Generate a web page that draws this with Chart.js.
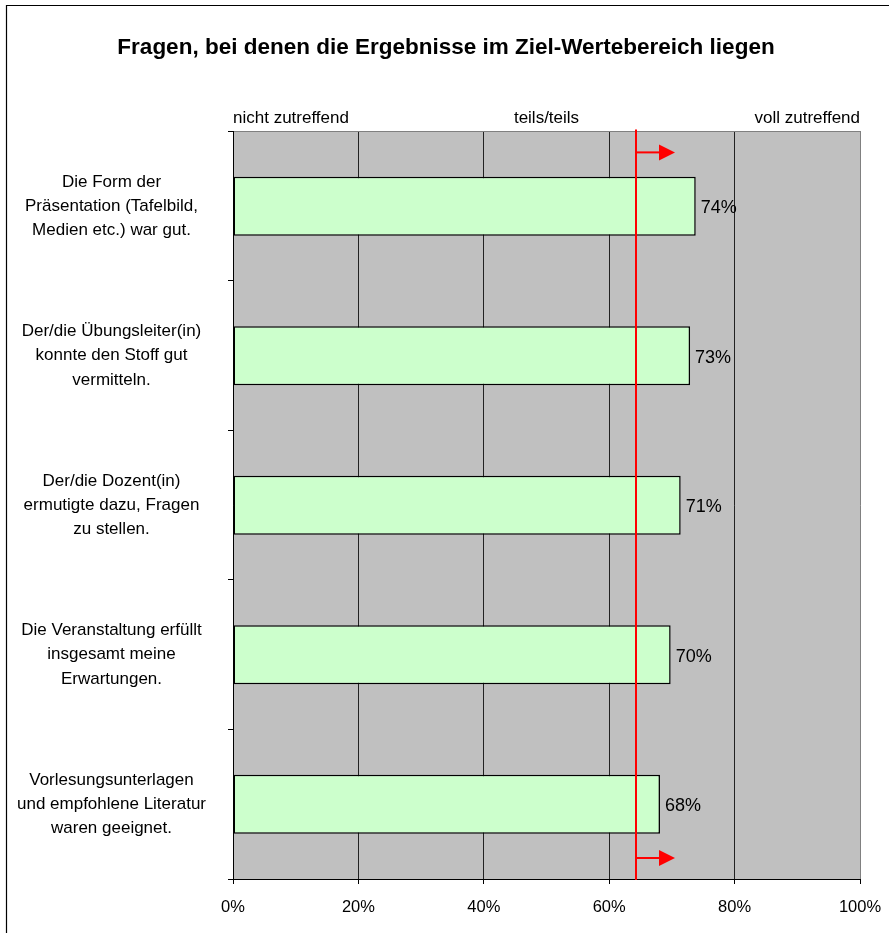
<!DOCTYPE html>
<html><head><meta charset="utf-8">
<script src="https://cdn.jsdelivr.net/npm/chart.js@4/dist/chart.umd.min.js"></script>
<style>html,body{margin:0;padding:0;background:#fff}#wrap{width:889px;height:933px;position:relative}canvas{display:block}</style>
</head><body><div id="wrap"><canvas id="c" width="889" height="933"></canvas></div>
<script>
const chartTitle = "Fragen, bei denen die Ergebnisse im Ziel-Wertebereich liegen";
const categories = [
  ["Die Form der", "Präsentation (Tafelbild,", "Medien etc.) war gut."],
  ["Der/die Übungsleiter(in)", "konnte den Stoff gut", "vermitteln."],
  ["Der/die Dozent(in)", "ermutigte dazu, Fragen", "zu stellen."],
  ["Die Veranstaltung erfüllt", "insgesamt meine", "Erwartungen."],
  ["Vorlesungsunterlagen", "und empfohlene Literatur", "waren geeignet."]
];
const values = [73.8, 72.9, 71.4, 69.8, 68.1];
const xTickValues = [0, 20, 40, 60, 80, 100];
const scaleLabels = ["nicht zutreffend", "teils/teils", "voll zutreffend"];
const scaleLabelValues = [0, 50, 100];
const targetValue = 64.2;

const FONT = "'Liberation Sans', Arial, Helvetica, sans-serif";
Chart.defaults.font.family = FONT;
Chart.defaults.color = '#000';

const decor = {
  id: 'decor',
  beforeDraw(chart) {
    const {ctx, chartArea: a} = chart;
    ctx.save();
    ctx.fillStyle = '#fff';
    ctx.fillRect(0, 0, chart.width, chart.height);
    ctx.fillStyle = '#C0C0C0';
    ctx.fillRect(a.left, a.top, a.right - a.left, a.bottom - a.top);
    ctx.strokeStyle = '#000';
    ctx.lineWidth = 1.2;
    ctx.beginPath();
    ctx.moveTo(6.5, chart.height + 5);
    ctx.lineTo(6.5, 5.5);
    ctx.lineTo(chart.width + 5, 5.5);
    ctx.stroke();
    ctx.restore();
  },
  afterDatasetsDraw(chart) {
    const {ctx, chartArea: a} = chart;
    const xs = chart.scales.x;
    ctx.save();
    const meta = chart.getDatasetMeta(0);
    ctx.font = '18px ' + FONT;
    ctx.fillStyle = '#000';
    ctx.textAlign = 'left';
    ctx.textBaseline = 'middle';
    meta.data.forEach((bar, i) => {
      ctx.fillText(Math.round(values[i]) + '%', bar.x + 5, bar.y + 2);
    });
    const xt = Math.round(xs.getPixelForValue(targetValue));
    ctx.strokeStyle = '#FF0000';
    ctx.fillStyle = '#FF0000';
    ctx.lineWidth = 2;
    ctx.beginPath();
    ctx.moveTo(xt, a.top - 2);
    ctx.lineTo(xt, a.bottom + 1);
    ctx.stroke();
    const arrow = (y) => {
      ctx.beginPath();
      ctx.moveTo(xt, y);
      ctx.lineTo(xt + 25, y);
      ctx.stroke();
      ctx.beginPath();
      ctx.moveTo(xt + 23, y - 8);
      ctx.lineTo(xt + 39, y);
      ctx.lineTo(xt + 23, y + 8);
      ctx.closePath();
      ctx.fill();
    };
    arrow(a.top + 21);
    arrow(a.bottom - 21);
    ctx.restore();
  }
};

new Chart(document.getElementById('c'), {
  type: 'bar',
  data: {
    labels: categories,
    datasets: [{
      data: values,
      backgroundColor: '#CCFFCC',
      borderColor: '#000',
      borderWidth: 1.5,
      borderSkipped: false,
      barPercentage: 0.395,
      categoryPercentage: 1.0
    }]
  },
  options: {
    indexAxis: 'y',
    responsive: false,
    animation: false,
    devicePixelRatio: 1,
    layout: {padding: {left: 8, right: 5, top: 0, bottom: 0}},
    plugins: {
      legend: {display: false},
      tooltip: {enabled: false},
      title: {
        display: true,
        text: chartTitle,
        color: '#000',
        font: {size: 22.5, weight: 'bold', family: FONT},
        padding: {top: 34, bottom: 44}
      }
    },
    scales: {
      x: {
        type: 'linear',
        position: 'bottom',
        min: 0, max: 100,
        afterBuildTicks: s => { s.ticks = xTickValues.map(v => ({value: v})); },
        ticks: {
          callback: v => v + '%',
          font: {size: 16.5},
          color: '#000',
          padding: 14,
          maxRotation: 0
        },
        grid: {
          color: c => (c.tick && c.tick.value === 100) ? '#808080' : '#222222',
          tickColor: '#000',
          tickLength: 5,
          lineWidth: 1
        },
        border: {color: '#000', width: 1},
        afterFit: s => { s.height = 54; s.paddingLeft = 0; s.paddingRight = 0; }
      },
      x2: {
        type: 'linear',
        position: 'top',
        min: 0, max: 100,
        afterBuildTicks: s => { s.ticks = scaleLabelValues.map(v => ({value: v})); },
        ticks: {
          callback: (v, i) => scaleLabels[i],
          align: 'inner',
          font: {size: 17},
          color: '#000',
          padding: 3,
          maxRotation: 0,
          autoSkip: false
        },
        grid: {display: false, drawTicks: false},
        border: {display: true, color: '#808080', width: 1},
        afterFit: s => { s.paddingLeft = 0; s.paddingRight = 0; }
      },
      y: {
        type: 'category',
        position: 'left',
        offset: true,
        grid: {
          offset: true,
          drawOnChartArea: false,
          drawTicks: true,
          tickLength: 5,
          color: '#000'
        },
        border: {color: '#000', width: 1},
        ticks: {
          crossAlign: 'center',
          padding: 22,
          font: {size: 17, lineHeight: 1.42},
          color: '#000',
          autoSkip: false
        },
        afterFit: s => { s.width = 225; s.paddingTop = 0; s.paddingBottom = 0; }
      },
      y2: {
        type: 'category',
        position: 'right',
        offset: true,
        ticks: {display: false},
        grid: {display: false, drawTicks: false},
        border: {display: false},
        afterFit: s => { s.width = 24; s.paddingTop = 0; s.paddingBottom = 0; }
      }
    }
  },
  plugins: [decor]
});
</script>
</body></html>
